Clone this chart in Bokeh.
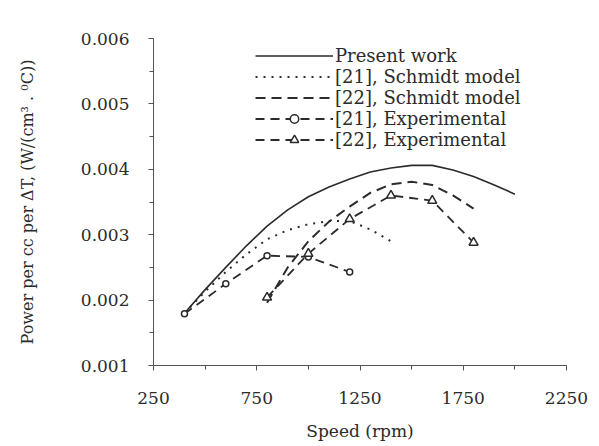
from bokeh.plotting import figure
from bokeh.models import Range1d, FixedTicker, PrintfTickFormatter, Legend, LegendItem
from bokeh.embed import file_html
from bokeh.resources import INLINE

# ---- data ----
present_rpm = [400, 500, 600, 700, 800, 900, 1000, 1100, 1200, 1300, 1400, 1500, 1600, 1700, 1800, 1900, 2000]
present_pow = [0.00180, 0.00216, 0.00250, 0.00283, 0.00313, 0.00338, 0.00358, 0.00373, 0.00385, 0.00396,
               0.00402, 0.00406, 0.00406, 0.00399, 0.00389, 0.00376, 0.00362]

schmidt21_rpm = [400, 500, 600, 700, 800, 900, 1000, 1100, 1200, 1300, 1400]
schmidt21_pow = [0.00180, 0.00213, 0.00243, 0.00270, 0.00293, 0.00307, 0.00316, 0.00321, 0.00321, 0.00308, 0.00290]

schmidt22_rpm = [800, 900, 1000, 1100, 1200, 1300, 1400, 1500, 1600, 1700, 1800]
schmidt22_pow = [0.00196, 0.00250, 0.00290, 0.00320, 0.00343, 0.00364, 0.00377, 0.00381, 0.00376, 0.00360, 0.00340]

exp21_rpm = [400, 600, 800, 1000, 1200]
exp21_pow = [0.00179, 0.00225, 0.00268, 0.00266, 0.00243]

exp22_rpm = [800, 1000, 1200, 1400, 1600, 1800]
exp22_pow = [0.00204, 0.00271, 0.00324, 0.00360, 0.00352, 0.00288]

x_major = [250, 750, 1250, 1750, 2250]
x_minor = [500, 1000, 1500, 2000]
y_major = [0.001, 0.002, 0.003, 0.004, 0.005, 0.006]
y_minor = [0.0015, 0.0025, 0.0035, 0.0045, 0.0055]

labels = ["Present work", "[21], Schmidt model", "[22], Schmidt model",
          "[21], Experimental", "[22], Experimental"]

INK = "#2b2b2b"
FONT = "DejaVu Serif"

p = figure(width=599, height=446, output_backend="svg", toolbar_location=None,
           x_range=Range1d(250, 2250), y_range=Range1d(0.001, 0.006),
           min_border_left=153, min_border_right=33, min_border_top=38, min_border_bottom=81)
p.outline_line_color = None
p.grid.visible = False
p.background_fill_color = "white"
p.border_fill_color = "white"

r0 = p.line(present_rpm, present_pow, line_color=INK, line_width=1.6)
r1 = p.line(schmidt21_rpm, schmidt21_pow, line_color=INK, line_width=2, line_dash="2 6")
r2 = p.line(schmidt22_rpm, schmidt22_pow, line_color=INK, line_width=2, line_dash="10 6")
r3 = p.line(exp21_rpm, exp21_pow, line_color=INK, line_width=1.8, line_dash="9 6")
r3m = p.scatter(exp21_rpm, exp21_pow, marker="circle", size=6, fill_color="white",
                line_color=INK, line_width=1.5)
r4 = p.line(exp22_rpm, exp22_pow, line_color=INK, line_width=1.8, line_dash="9 6")
r4m = p.scatter(exp22_rpm, exp22_pow, marker="triangle", size=9, fill_color="white",
                line_color=INK, line_width=1.5)

# axes
xa = p.xaxis[0]
xa.ticker = FixedTicker(ticks=x_major, minor_ticks=x_minor)
xa.axis_label = "Speed (rpm)"
ya = p.yaxis[0]
ya.ticker = FixedTicker(ticks=y_major, minor_ticks=y_minor)
ya.formatter = PrintfTickFormatter(format="%.3f")
ya.axis_label = "Power per cc per \u0394T, (W/(cm\u00b3 . \u2070C))"

for ax in (xa, ya):
    ax.axis_line_color = "#555555"
    ax.axis_line_width = 1
    ax.major_tick_line_color = "#555555"
    ax.minor_tick_line_color = "#555555"
    ax.major_tick_in = 0
    ax.minor_tick_in = 0
    ax.major_tick_out = 5
    ax.minor_tick_out = 4
    ax.major_label_text_font = FONT
    ax.major_label_text_font_size = "17px"
    ax.major_label_text_color = INK
    ax.axis_label_text_font = FONT
    ax.axis_label_text_font_style = "normal"
    ax.axis_label_text_color = INK

xa.major_label_standoff = 21
xa.axis_label_standoff = 14
xa.axis_label_text_font_size = "17px"
ya.major_label_standoff = 19
ya.axis_label_standoff = 41
ya.axis_label_text_font_size = "16px"

legend = Legend(items=[
    LegendItem(label=labels[0], renderers=[r0]),
    LegendItem(label=labels[1], renderers=[r1]),
    LegendItem(label=labels[2], renderers=[r2]),
    LegendItem(label=labels[3], renderers=[r3, r3m]),
    LegendItem(label=labels[4], renderers=[r4, r4m]),
], location=(102, 215), orientation="vertical")
legend.glyph_width = 78
legend.glyph_height = 21
legend.label_height = 21
legend.spacing = 0
legend.padding = 0
legend.margin = 0
legend.label_standoff = 2
legend.border_line_alpha = 0
legend.background_fill_alpha = 0
legend.label_text_font = FONT
legend.label_text_font_size = "18px"
legend.label_text_color = INK
p.add_layout(legend, "center")

open("out.html", "w").write(file_html(p, INLINE))
